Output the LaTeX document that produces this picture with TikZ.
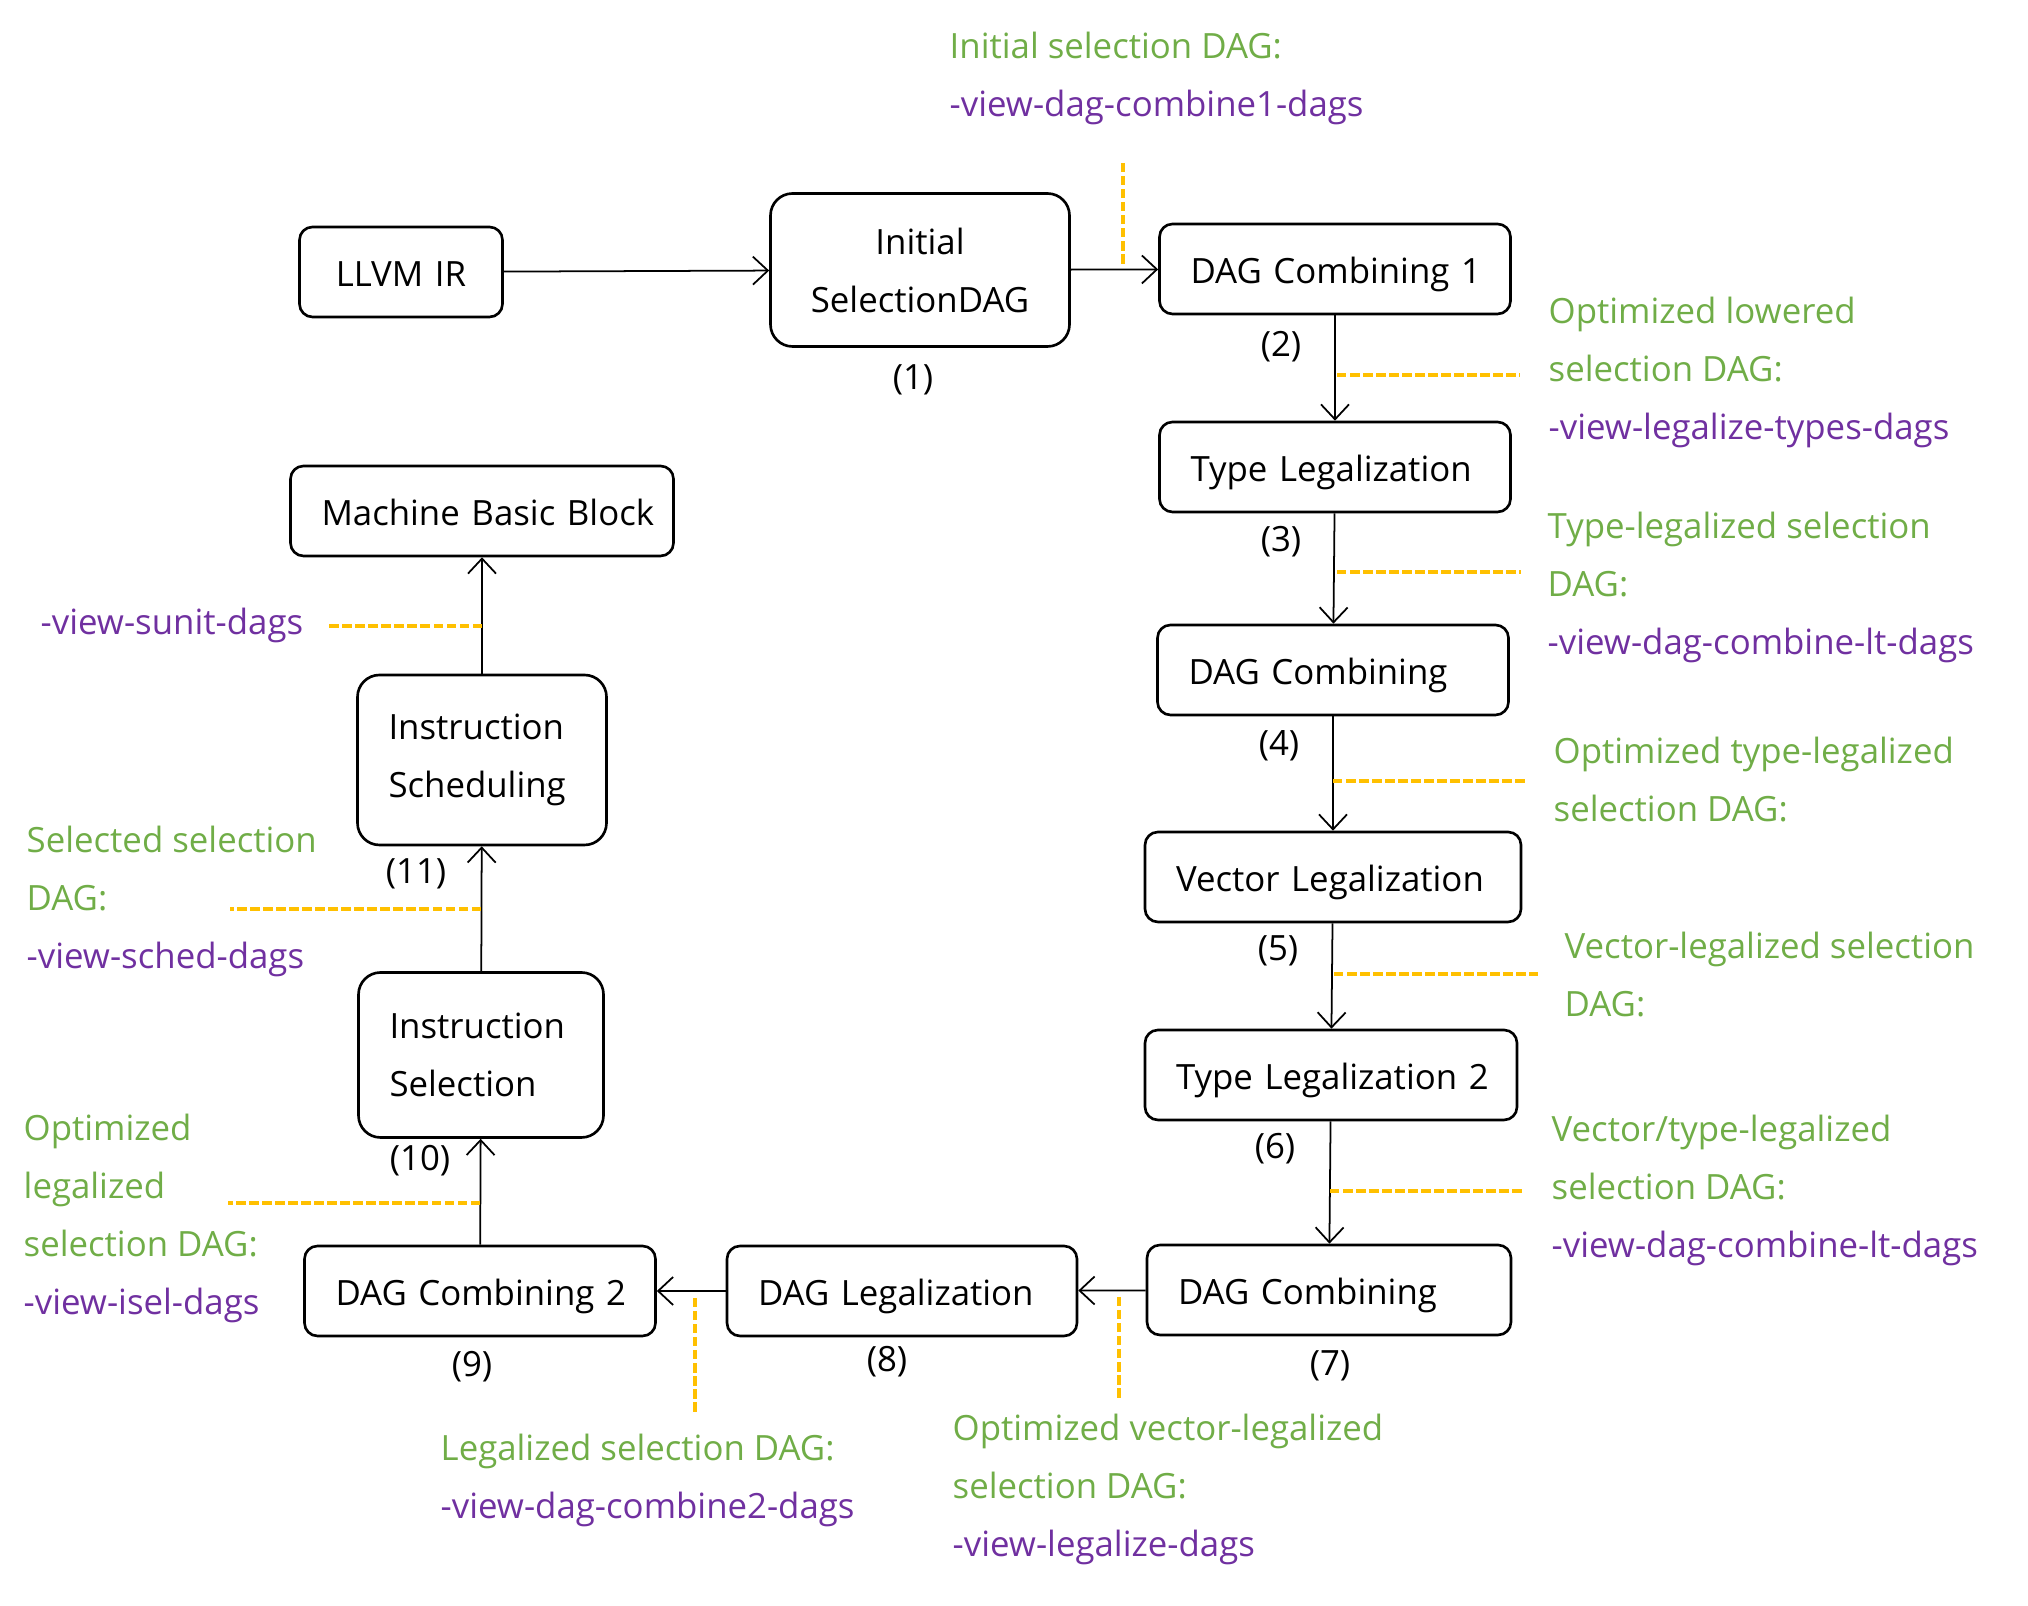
\documentclass[tikz,border=0pt]{standalone}
\usepackage{fontspec}
\setmainfont{Open Sans}
\usepackage{xcolor}
\usetikzlibrary{arrows.meta}

\definecolor{notegreen}{HTML}{70AD47}
\definecolor{optpurple}{HTML}{7030A0}
\definecolor{leadorange}{HTML}{FFC000}

\newcommand{\gr}[1]{\textcolor{notegreen}{#1}}
\newcommand{\pu}[1]{\textcolor{optpurple}{#1}}

\begin{document}
\begin{tikzpicture}[
	font=\fontsize{9.9}{16.5}\selectfont,
	pass/.style={draw, line width=0.75pt, rounded corners=0.13cm, inner xsep=0.31cm, inner ysep=0pt, align=left, minimum height=0.9cm, text height=0.84em, text depth=0pt},
	bigpass/.style={draw, line width=0.75pt, rounded corners=0.22cm, inner xsep=0.31cm, align=left},
	flow/.style={line width=0.5pt, -{Straight Barb[length=1.5mm, width=2.8mm]}},
	leader/.style={leadorange, line width=1.1pt, dash pattern=on 2.7pt off 1pt},
	note/.style={anchor=west, align=left, inner sep=0pt}
]
	\useasboundingbox (0,0) rectangle (20.28,-16.06);

	% passes
	\node[pass, align=center, text width=1.41cm] (llvm) at (4.01,-2.72) {LLVM IR};
	\node[bigpass, align=center, text width=2.37cm, minimum height=1.53cm] (init) at (9.20,-2.70) {Initial\\SelectionDAG};
	\node[pass, text width=2.89cm] (comb1) at (13.35,-2.69) {\mbox{DAG Combining 1}};
	\node[pass, text width=2.89cm] (typeleg) at (13.35,-4.67) {\mbox{Type Legalization}};
	\node[pass, text width=2.89cm] (comb) at (13.33,-6.70) {\mbox{DAG Combining}};
	\node[pass, text width=3.14cm] (vecleg) at (13.33,-8.77) {\mbox{Vector Legalization}};
	\node[pass, text width=3.10cm] (typeleg2) at (13.31,-10.75) {\mbox{Type Legalization 2}};
	\node[pass, text width=3.02cm] (combb) at (13.29,-12.90) {\mbox{DAG Combining}};
	\node[pass, text width=2.88cm] (dagleg) at (9.02,-12.91) {\mbox{DAG Legalization}};
	\node[pass, text width=2.89cm] (comb2) at (4.80,-12.91) {\mbox{DAG Combining 2}};
	\node[bigpass, text width=1.83cm, minimum height=1.65cm] (isel) at (4.81,-10.55) {Instruction\\Selection};
	\node[bigpass, text width=1.87cm, minimum height=1.70cm] (isched) at (4.82,-7.60) {Instruction\\Scheduling};
	\node[pass, text width=3.21cm] (mbb) at (4.82,-5.11) {\mbox{Machine Basic Block}};

	% connectors
	\draw[flow] (llvm) -- (init);
	\draw[flow] (init) -- (comb1);
	\draw[flow] (comb1) -- (typeleg);
	\draw[flow] (typeleg) -- (comb);
	\draw[flow] (comb) -- (vecleg);
	\draw[flow] (vecleg) -- (typeleg2);
	\draw[flow] (typeleg2) -- (combb);
	\draw[flow] (combb) -- (dagleg);
	\draw[flow] (dagleg) -- (comb2);
	\draw[flow] (comb2) -- (isel);
	\draw[flow] (isel) -- (isched);
	\draw[flow] (isched) -- (mbb);

	% step numbers
	\foreach \n/\x/\y in {1/9.13/3.80, 2/12.81/3.47, 3/12.81/5.42, 4/12.79/7.46, 5/12.78/9.51, 6/12.75/11.49,
			7/13.30/13.66, 8/8.87/13.62, 9/4.72/13.67, 10/4.20/11.61, 11/4.16/8.74}
		\node (num\n) at (\x,-\y) {(\n)};

	% leader lines
	\foreach \xa/\ya/\xb/\yb in {11.23/1.63/11.23/2.65, 13.37/3.75/15.20/3.75, 13.37/5.72/15.21/5.72,
			13.33/7.81/15.28/7.81, 13.34/9.74/15.38/9.74, 13.30/11.91/15.24/11.91,
			11.19/12.97/11.19/14.01, 6.95/12.98/6.95/14.12,
			4.80/12.03/2.28/12.03, 4.81/9.09/2.30/9.09, 4.82/6.26/3.29/6.26}
		\draw[leader] (\xa,-\ya) -- (\xb,-\yb);

	% notes
	\node[note] (n1) at (9.49,-0.78) {\gr{Initial selection DAG:}\\\pu{-view-dag-combine1-dags}};
	\node[note] (n2) at (15.48,-3.72) {\gr{Optimized lowered}\\\gr{selection DAG:}\\\pu{-view-legalize-types-dags}};
	\node[note] (n3) at (15.47,-5.87) {\gr{Type-legalized selection}\\\gr{DAG:}\\\pu{-view-dag-combine-lt-dags}};
	\node[note] (n4) at (15.53,-7.80) {\gr{Optimized type-legalized}\\\gr{selection DAG:}};
	\node[note] (n5) at (15.64,-9.75) {\gr{Vector-legalized selection}\\\gr{DAG:}};
	\node[note] (n6) at (15.51,-11.90) {\gr{Vector/type-legalized}\\\gr{selection DAG:}\\\pu{-view-dag-combine-lt-dags}};
	\node[note] (n7) at (9.52,-14.89) {\gr{Optimized vector-legalized}\\\gr{selection DAG:}\\\pu{-view-legalize-dags}};
	\node[note] (n8) at (4.40,-14.80) {\gr{Legalized selection DAG:}\\\pu{-view-dag-combine2-dags}};
	\node[note] (n9) at (0.23,-12.18) {\gr{Optimized}\\\gr{legalized}\\\gr{selection DAG:}\\\pu{-view-isel-dags}};
	\node[note] (n10) at (0.26,-9.01) {\gr{Selected selection}\\\gr{DAG:}\\\pu{-view-sched-dags}};
	\node[note] (n11) at (0.40,-6.25) {\pu{-view-sunit-dags}};
\end{tikzpicture}
\end{document}
